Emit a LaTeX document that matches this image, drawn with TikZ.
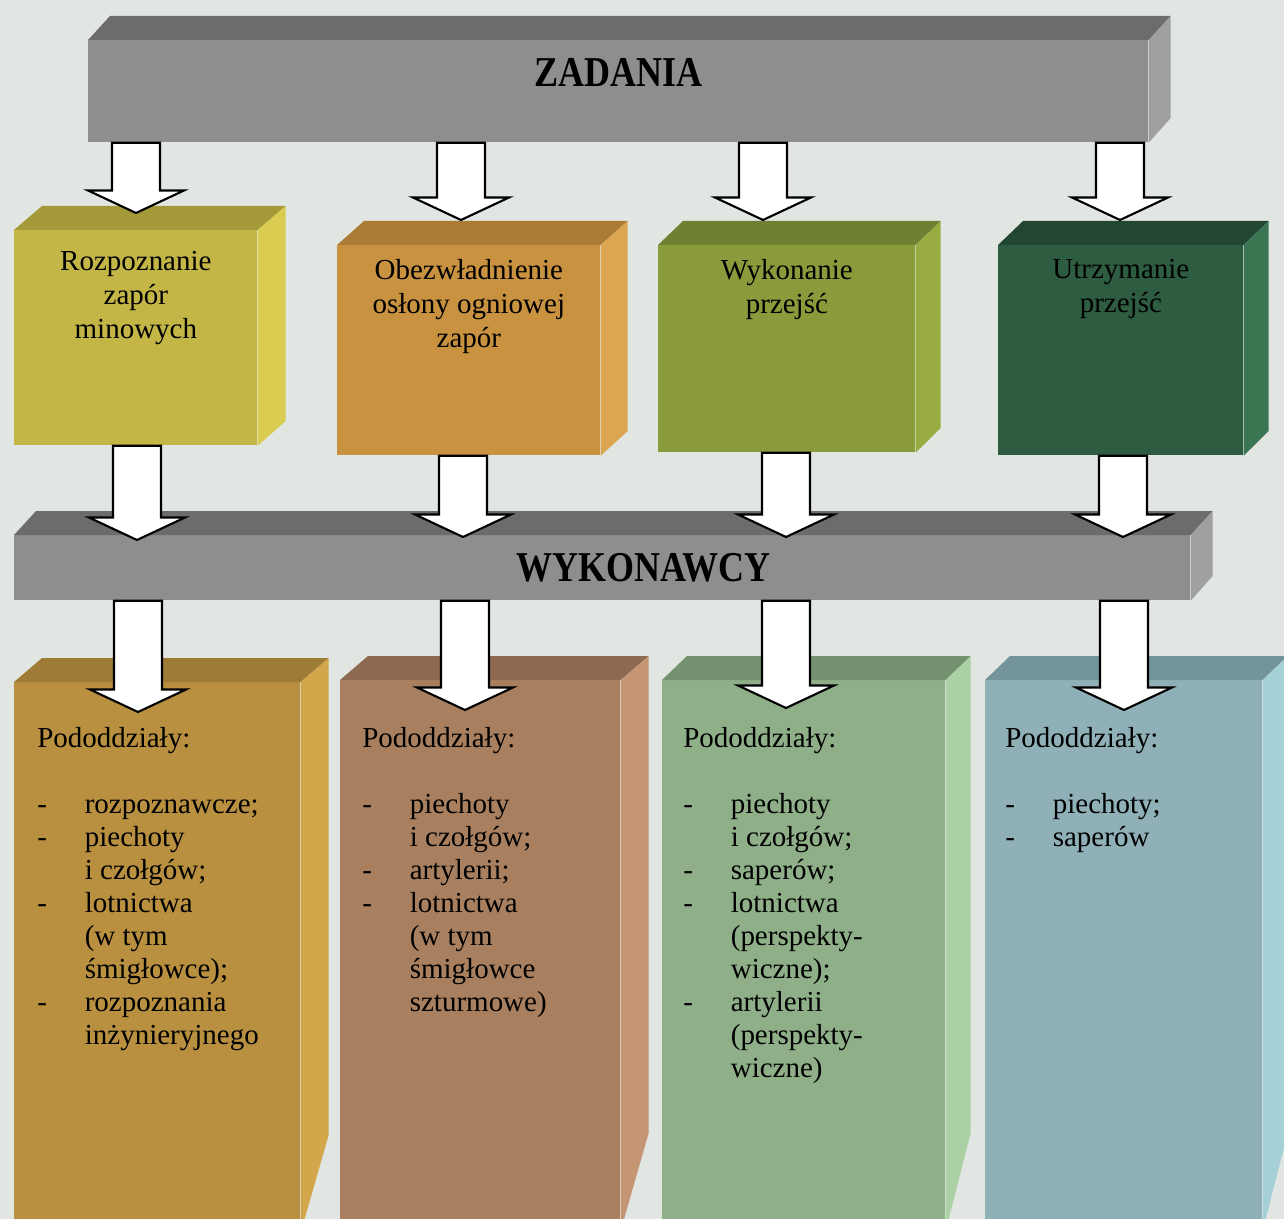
\documentclass[tikz,border=0pt]{standalone}
\usepackage{fontspec}
\setmainfont{Liberation Serif}
\usetikzlibrary{positioning, calc}
\definecolor{paper}{RGB}{226,230,226}
\definecolor{barfront}{RGB}{142,142,142}
\definecolor{bartop}{RGB}{108,108,108}
\definecolor{barside}{RGB}{160,160,160}
\definecolor{reccolor}{RGB}{195,182,70}
\definecolor{rectop}{RGB}{165,154,58}
\definecolor{recside}{RGB}{218,204,80}
\definecolor{firecolor}{RGB}{200,146,64}
\definecolor{firetop}{RGB}{172,124,54}
\definecolor{fireside}{RGB}{220,165,80}
\definecolor{passcolor}{RGB}{138,155,60}
\definecolor{passtop}{RGB}{112,128,50}
\definecolor{passside}{RGB}{152,172,66}
\definecolor{holdcolor}{RGB}{45,92,64}
\definecolor{holdtop}{RGB}{34,70,49}
\definecolor{holdside}{RGB}{58,118,82}
\definecolor{unitAcolor}{RGB}{184,144,64}
\definecolor{unitAtop}{RGB}{158,124,54}
\definecolor{unitAside}{RGB}{210,166,74}
\definecolor{unitBcolor}{RGB}{168,128,96}
\definecolor{unitBtop}{RGB}{140,105,80}
\definecolor{unitBside}{RGB}{196,150,116}
\definecolor{unitCcolor}{RGB}{142,175,136}
\definecolor{unitCtop}{RGB}{116,146,112}
\definecolor{unitCside}{RGB}{170,208,164}
\definecolor{unitDcolor}{RGB}{142,176,182}
\definecolor{unitDtop}{RGB}{116,148,155}
\definecolor{unitDside}{RGB}{166,208,215}
\newcommand{\px}{0.02cm}
% top and side faces of a box whose front face is a node
\newcommand{\boxfaces}[5]{%
  \fill[#2] (#1.north west) -- ++(#5,-24) -- ([shift={(#5,-24)}]#1.north east) -- (#1.north east) -- cycle;
  \fill[#3] (#1.north east) -- ++(#5,-24) -- ++(0,#4) -- (#1.south east) -- cycle;}
% hollow block arrow from #1 down to #2
\newcommand{\blockarrow}[2]{%
  \draw[blockarr] let \p1=(#1), \p2=(#2) in
    (\x1-0.48cm,\y1) -- (\x1-0.48cm,\y2+0.45cm) -- (\x1-0.96cm,\y2+0.45cm) -- (\x2,\y2)
    -- (\x1+0.96cm,\y2+0.45cm) -- (\x1+0.48cm,\y2+0.45cm) -- (\x1+0.48cm,\y1) -- cycle;}
\newcommand{\dash}{\makebox[0.95cm][l]{-}}
\newcommand{\cont}{\hspace*{0.95cm}}

\begin{document}
\begin{tikzpicture}[
    x=\px, y=-\px,
    face/.style={rectangle, inner sep=0pt, anchor=north west},
    title/.style={font=\bfseries\fontsize{20.5}{22}\selectfont},
    tasktext/.style={align=center, inner sep=0pt, font=\fontsize{16.5}{19.4}\selectfont},
    unittext/.style={align=left, inner sep=0pt, font=\fontsize{16.5}{18.8}\selectfont},
    blockarr/.style={draw=black, fill=white, line width=1.2pt, line join=miter}
]
    \useasboundingbox (0,0) rectangle (1284,1219);
    \clip (0,0) rectangle (1284,1219);
    \fill[paper] (0,0) rectangle (1284,1219);

    % Tasks bar
    \node[face, fill=barfront, minimum width=1060*\px, minimum height=102*\px] (zad) at (88,40) {};
    \boxfaces{zad}{bartop}{barside}{102}{22}
    \node[title] (zadtxt) at ([yshift=0.38cm]zad.center) {\scalebox{1}[1.18]{ZADANIA}};

    % Tasks
    \node[face, fill=reccolor, minimum width=243*\px, minimum height=215*\px] (r1) at (14,230) {};
    \node[face, fill=firecolor, minimum width=263*\px, minimum height=210*\px] (r2) at (337,245) {};
    \node[face, fill=passcolor, minimum width=257*\px, minimum height=207*\px] (r3) at (658,245) {};
    \node[face, fill=holdcolor, minimum width=245*\px, minimum height=210*\px] (r4) at (998,245) {};
    \boxfaces{r1}{rectop}{recside}{215}{28}
    \boxfaces{r2}{firetop}{fireside}{210}{27}
    \boxfaces{r3}{passtop}{passside}{207}{25}
    \boxfaces{r4}{holdtop}{holdside}{210}{25}

    \node[tasktext, below=0.42cm of r1.north] (r1txt) {Rozpoznanie\\zapór\\minowych};
    \node[tasktext, below=0.28cm of r2.north] (r2txt) {Obezwładnienie\\osłony ogniowej\\zapór};
    \node[tasktext, below=0.28cm of r3.north] (r3txt) {Wykonanie\\przejść};
    \node[tasktext, below=0.28cm of r4.north] (r4txt) {Utrzymanie\\przejść};

    % Executors bar
    \node[face, fill=barfront, minimum width=1176*\px, minimum height=65*\px] (wyk) at (14,535) {};
    \boxfaces{wyk}{bartop}{barside}{65}{22}

    % Units
    \node[face, fill=unitAcolor, minimum width=286*\px, minimum height=550*\px] (uA) at (14,682) {};
    \node[face, fill=unitBcolor, minimum width=280*\px, minimum height=550*\px] (uB) at (340,680) {};
    \node[face, fill=unitCcolor, minimum width=283*\px, minimum height=550*\px] (uC) at (662,680) {};
    \node[face, fill=unitDcolor, minimum width=277*\px, minimum height=550*\px] (uD) at (985,680) {};
    \boxfaces{uA}{unitAtop}{unitAside}{477}{28}
    \boxfaces{uB}{unitBtop}{unitBside}{477}{28}
    \boxfaces{uC}{unitCtop}{unitCside}{477}{25}
    \boxfaces{uD}{unitDtop}{unitDside}{477}{25}

    % Arrows
    \coordinate (a1) at (136,213);
    \coordinate (a2) at (461,220);
    \coordinate (a3) at (763,220);
    \coordinate (a4) at (1120,220);
    \coordinate (b1) at (137,540);
    \coordinate (b2) at (463,537);
    \coordinate (b3) at (786,537);
    \coordinate (b4) at (1123,537);
    \coordinate (c1) at (138,712);
    \coordinate (c2) at (465,710);
    \coordinate (c3) at (786,708);
    \coordinate (c4) at (1124,710);
    \blockarrow{zad.south -| a1}{a1}
    \blockarrow{zad.south -| a2}{a2}
    \blockarrow{zad.south -| a3}{a3}
    \blockarrow{zad.south -| a4}{a4}
    \blockarrow{r1.south -| b1}{b1}
    \blockarrow{r2.south -| b2}{b2}
    \blockarrow{r3.south -| b3}{b3}
    \blockarrow{r4.south -| b4}{b4}
    \blockarrow{wyk.south -| c1}{c1}
    \blockarrow{wyk.south -| c2}{c2}
    \blockarrow{wyk.south -| c3}{c3}
    \blockarrow{wyk.south -| c4}{c4}

    \node[title] (wyktxt) at ([xshift=0.82cm]wyk.center) {\scalebox{1}[1.18]{WYKONAWCY}};

    % Unit lists
    \node[unittext, below right=0.9cm and 0.46cm of uA.north west] (uAtxt) {Pododdziały:\\[18.8pt]
      \dash rozpoznawcze;\\
      \dash piechoty\\
      \cont i czołgów;\\
      \dash lotnictwa\\
      \cont (w tym\\
      \cont śmigłowce);\\
      \dash rozpoznania\\
      \cont inżynieryjnego};
    \node[unittext, below right=0.94cm and 0.44cm of uB.north west] (uBtxt) {Pododdziały:\\[18.8pt]
      \dash piechoty\\
      \cont i czołgów;\\
      \dash artylerii;\\
      \dash lotnictwa\\
      \cont (w tym\\
      \cont śmigłowce\\
      \cont szturmowe)};
    \node[unittext, below right=0.94cm and 0.42cm of uC.north west] (uCtxt) {Pododdziały:\\[18.8pt]
      \dash piechoty\\
      \cont i czołgów;\\
      \dash saperów;\\
      \dash lotnictwa\\
      \cont (perspekty-\\
      \cont wiczne);\\
      \dash artylerii\\
      \cont (perspekty-\\
      \cont wiczne)};
    \node[unittext, below right=0.94cm and 0.4cm of uD.north west] (uDtxt) {Pododdziały:\\[18.8pt]
      \dash piechoty;\\
      \dash saperów};
\end{tikzpicture}
\end{document}
